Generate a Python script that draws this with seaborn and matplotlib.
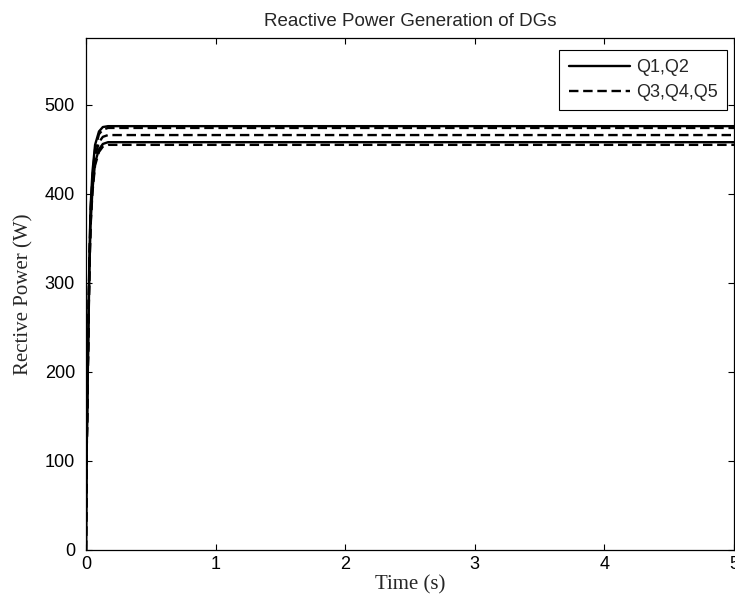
import numpy as np
import pandas as pd
import matplotlib
matplotlib.use("Agg")
import matplotlib.pyplot as plt
import seaborn as sns

# Data
time = [0, 0.005, 0.015, 0.025, 0.035, 0.05, 0.07, 0.1, 0.13, 0.17, 5.0]
q1 = [0, 110, 220, 320, 385, 425, 455, 470, 475, 476, 476]
q2 = [0, 105, 210, 305, 365, 405, 435, 450, 456, 458, 458]
q3 = [0, 108, 215, 315, 380, 420, 450, 467, 472, 474, 474]
q4 = [0, 106, 212, 310, 372, 412, 442, 458, 464, 466, 466]
q5 = [0, 104, 208, 302, 362, 402, 432, 447, 453, 455, 455]
series_names = ["Q1", "Q2", "Q3", "Q4", "Q5"]
legend_labels = ["Q1,Q2", "Q3,Q4,Q5"]
xticks = [0, 1, 2, 3, 4, 5]
yticks = [0, 100, 200, 300, 400, 500]

sns.set_style("ticks")
plt.rcParams["font.family"] = ["Liberation Sans", "DejaVu Sans"]

fig = plt.figure(figsize=(7.35, 6.09), dpi=100)
ax = fig.add_axes([86 / 735, 1 - 550 / 609, (734 - 86) / 735, (550 - 38) / 609])

dashed = (0, (4, 2))
styles = {"Q1": "-", "Q2": "-", "Q3": dashed, "Q4": dashed, "Q5": dashed}
labels = {"Q1": legend_labels[0], "Q3": legend_labels[1]}
for name, vals in zip(series_names, [q1, q2, q3, q4, q5]):
    sns.lineplot(x=time, y=vals, color="black", linewidth=1.7,
                 linestyle=styles[name], label=labels.get(name, "_nolegend_"),
                 ax=ax, estimator=None, sort=False)

ax.set_xlim(0, 5)
ax.set_ylim(0, 575)
ax.set_xticks(xticks)
ax.set_yticks(yticks)
ax.tick_params(direction="in", length=4, width=0.8, top=True, right=True,
               labelsize=13, colors="black")
ax.tick_params(axis="y", pad=8)
ax.tick_params(axis="x", pad=4)
for s in ax.spines.values():
    s.set_visible(True)
    s.set_linewidth(0.9)
    s.set_color("black")

ax.set_title("Reactive Power Generation of DGs", fontsize=13.5, pad=9)
ax.set_xlabel("Time (s)", family=["Liberation Serif", "DejaVu Serif"], fontsize=15, labelpad=2)
ax.set_ylabel("Rective Power (W)", family=["Liberation Serif", "DejaVu Serif"], fontsize=15, labelpad=8)

leg = ax.legend(loc="upper right", bbox_to_anchor=((727 - 86) / 648, (550 - 50) / 512),
                frameon=True, fancybox=False, fontsize=13,
                edgecolor="black", framealpha=1, handlelength=3.4,
                borderaxespad=0, handletextpad=0.35, labelspacing=0.45,
                borderpad=0.5)
leg.get_frame().set_linewidth(0.8)

fig.savefig("out.png", dpi=100)
